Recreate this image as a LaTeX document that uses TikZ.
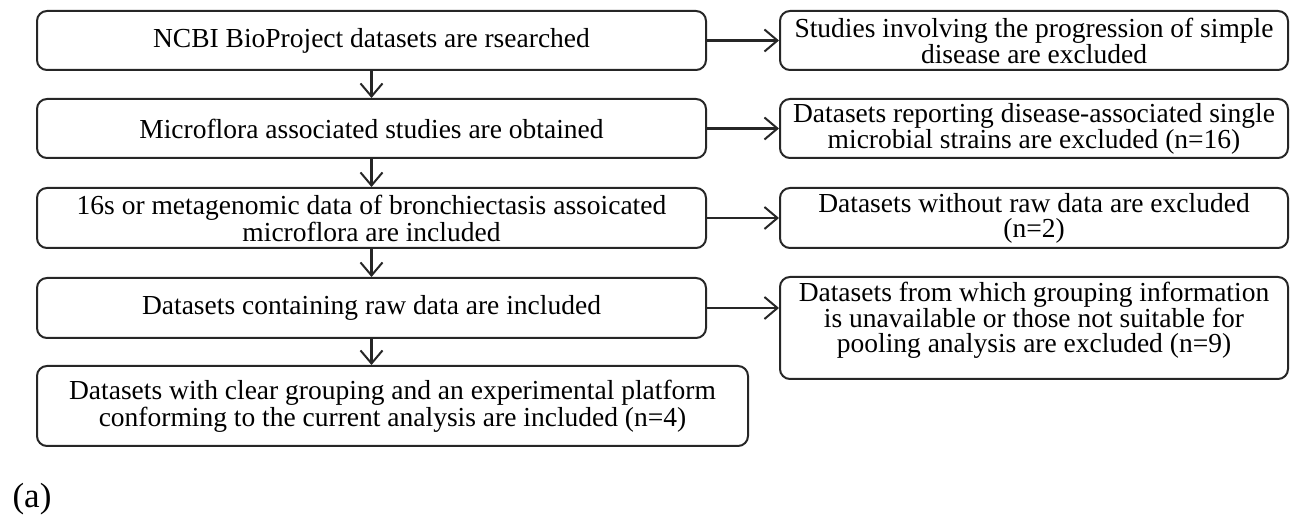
\documentclass[tikz,border=0pt]{standalone}
\usepackage{fontspec}
\setmainfont{Liberation Serif}
\usetikzlibrary{arrows.meta}
\tikzset{
  fbox/.style={draw=black!85, line width=2pt, rounded corners=10pt, inner sep=0pt},
  ltext/.style={align=center, font=\fontsize{27.5}{27}\selectfont},
  rtext/.style={align=center, font=\fontsize{27.5}{25}\selectfont},
  flow/.style={draw=black!85, line width=2.2pt, -{Straight Barb[length=13pt,width=22pt,line width=2pt]}}
}
\begin{document}
\begin{tikzpicture}[x=1pt,y=-1pt]
\useasboundingbox (0,0) rectangle (1291,518);
% left column
\node[fbox, ltext, minimum width=669pt, minimum height=59pt] (l1) at (371.5,40.5) {NCBI BioProject datasets are rsearched};
\node[fbox, ltext, minimum width=669pt, minimum height=59pt] (l2) at (371.5,128.5) {Microflora associated studies are obtained};
\node[fbox, ltext, minimum width=669pt, minimum height=60pt] (l3) at (371.5,218) {16s or metagenomic data of bronchiectasis assoicated\\microflora are included};
\node[fbox, ltext, minimum width=669pt, minimum height=60pt] (l4) at (371.5,308) {Datasets containing raw data are included};
\node[fbox, ltext, minimum width=711pt, minimum height=80pt] (l5) at (392.5,406) {Datasets with clear grouping and an experimental platform\\conforming to the current analysis are included (n=4)};
% right column
\node[fbox, rtext, minimum width=508pt, minimum height=59pt] (r1) at (1034,40.5) {Studies involving the progression of simple\\disease are excluded};
\node[fbox, rtext, minimum width=508pt, minimum height=59pt] (r2) at (1034,128.5) {Datasets reporting disease-associated single\\microbial strains are excluded (n=16)};
\node[fbox, rtext, minimum width=508pt, minimum height=60pt] (r3) at (1034,218) {Datasets without raw data are excluded\\(n=2)};
\node[fbox, minimum width=508pt, minimum height=102pt] (r4) at (1034,328) {};
\node[rtext, anchor=north, inner sep=0pt] (r4t) at ([yshift=-6pt]r4.north) {Datasets from which grouping information\\is unavailable or those not suitable for\\pooling analysis are excluded (n=9)};
% label
\node[font=\fontsize{35}{35}\selectfont, inner sep=0pt] (lab) at (32,499) {(a)};
% connectors
\draw[flow] (l1.south) -- (l2.north);
\draw[flow] (l2.south) -- (l3.north);
\draw[flow] (l3.south) -- (l4.north);
\draw[flow] (l4.south) -- (l4.south |- l5.north);
\draw[flow] (l1.east) -- (l1.east -| r1.west);
\draw[flow] (l2.east) -- (l2.east -| r2.west);
\draw[flow] (l3.east) -- (l3.east -| r3.west);
\draw[flow] (l4.east) -- (l4.east -| r4.west);
\end{tikzpicture}
\end{document}
